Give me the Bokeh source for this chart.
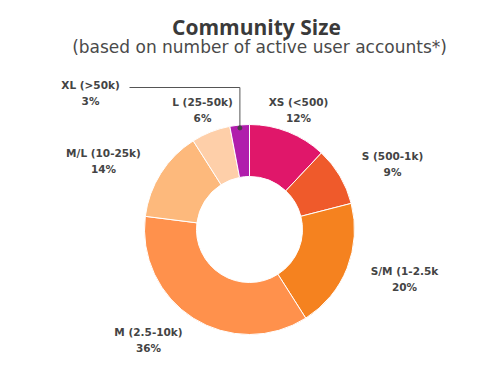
import numpy as np
from bokeh.plotting import figure
from bokeh.models import Range1d, ColumnDataSource
from bokeh.core.properties import value
from bokeh.embed import file_html
from bokeh.resources import INLINE

# ---- data ----
categories = ["XS (<500)", "S (500-1k)", "S/M (1-2.5k", "M (2.5-10k)", "M/L (10-25k)", "L (25-50k)", "XL (>50k)"]
percents = [12, 9, 20, 36, 14, 6, 3]
colors = ["#E0176A", "#EF5A2B", "#F5821F", "#FF914C", "#FDB97C", "#FECFA9", "#B01EAC"]

title_text = "Community Size"
subtitle_text = "(based on number of active user accounts*)"

# ---- layout (pixels of picture; y measured from top) ----
W, H = 484, 358
def X(px): return px
def Y(py): return H - py

cx, cy = X(249), Y(229)
r_out, r_in = 105, 53

# label positions (name line centre) in picture pixels
label_pos = [(298, 101), (392, 155), (404, 270), (148, 331), (103, 152), (202, 101), (90, 84)]
line_gap = 16

vals = np.array(percents, dtype=float)
frac = vals / vals.sum()
cum = np.concatenate([[0], np.cumsum(frac)])
start = np.pi / 2 - 2 * np.pi * cum[1:]
end = np.pi / 2 - 2 * np.pi * cum[:-1]

src = ColumnDataSource(dict(start=start, end=end, color=colors, cat=categories,
                            pct=[f"{v}%" for v in percents]))

p = figure(width=W, height=H, output_backend="svg", toolbar_location=None,
           x_range=Range1d(0, W), y_range=Range1d(0, H), min_border=0,
           outline_line_color=None, background_fill_color="white", border_fill_color="white")
p.axis.visible = False
p.grid.visible = False

p.annular_wedge(x=cx, y=cy, inner_radius=r_in, outer_radius=r_out,
                start_angle="start", end_angle="end", fill_color="color",
                line_color="white", line_width=1, source=src)

# labels
lx = [X(a) for a, b in label_pos]
ly1 = [Y(b) for a, b in label_pos]
ly2 = [Y(b + line_gap) for a, b in label_pos]
lab = ColumnDataSource(dict(x=lx, y1=ly1, y2=ly2, cat=categories, pct=[f"{v}%" for v in percents]))
p.text(x="x", y="y1", text="cat", source=lab, text_font=value("DejaVu Sans"), text_font_style="bold",
       text_font_size="10.5px", text_color="#444444", text_align="center", text_baseline="middle")
p.text(x="x", y="y2", text="pct", source=lab, text_font=value("DejaVu Sans"), text_font_style="bold",
       text_font_size="10.5px", text_color="#444444", text_align="center", text_baseline="middle")

# leader line for XL
xl_mid = (start[-1] + end[-1]) / 2
dot_r = r_out - 3
dx = cx + dot_r * np.cos(xl_mid)
dy = cy + dot_r * np.sin(xl_mid)
p.line(x=[X(129), dx, dx], y=[Y(87), Y(87), dy], line_color="#555555", line_width=1)
p.scatter(x=[dx], y=[dy], size=4, color="#444444")

# titles
p.text(x=[X(256)], y=[Y(26)], text=[title_text], text_font=value("Open Sans"), text_font_style="bold",
       text_font_size="21px", text_color="#3a3a3a", text_align="center", text_baseline="middle")
p.text(x=[X(259)], y=[Y(46)], text=[subtitle_text], text_font=value("DejaVu Sans"),
       text_font_size="17px", text_color="#4a4a4a", text_align="center", text_baseline="middle")

open("out.html", "w").write(file_html(p, INLINE))
